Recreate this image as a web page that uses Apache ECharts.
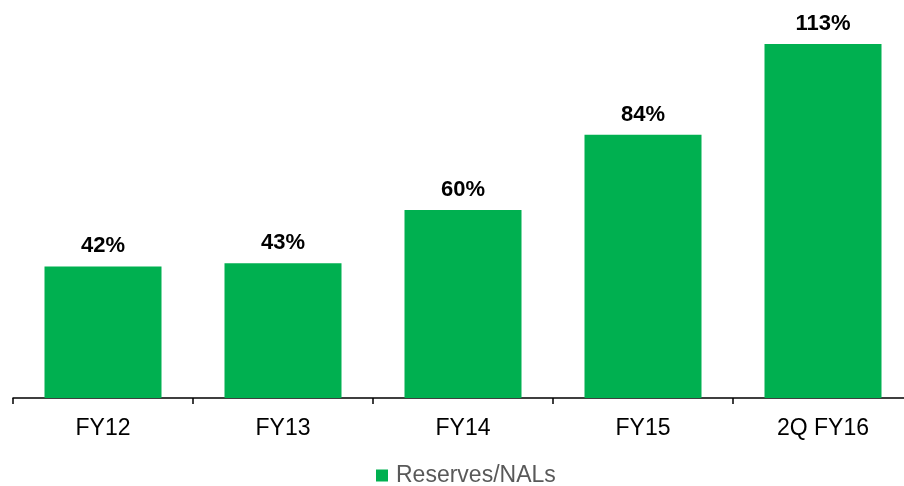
<!DOCTYPE html>
<html><head><meta charset="utf-8">
<script src="https://cdn.jsdelivr.net/npm/echarts@6/dist/echarts.min.js"></script>
<style>html,body{margin:0;padding:0;background:#fff}#c{width:904px;height:486px}</style>
</head><body><div id="c"></div>
<script>
const categories = ["FY12", "FY13", "FY14", "FY15", "2Q FY16"];
const reservesNALs = [42, 43, 60, 84, 113];
const seriesName = "Reserves/NALs";

const chart = echarts.init(document.getElementById('c'));
chart.setOption({
  animation: false,
  textStyle: { fontFamily: "Liberation Sans, Arial, sans-serif" },
  grid: { left: 13, width: 900, top: 22, bottom: 88, containLabel: false, outerBoundsMode: 'none' },
  legend: {
    data: [seriesName], top: 459, left: 371,
    itemWidth: 12, itemHeight: 12, itemGap: 8,
    icon: 'rect',
    textStyle: { fontSize: 23, color: '#595959', padding: [0, 0, 0, 3], fontFamily: "Liberation Sans, Arial, sans-serif" }
  },
  xAxis: {
    type: 'category', data: categories,
    axisLine: { lineStyle: { color: '#000', width: 1.5 } },
    axisTick: { show: true, length: 6, lineStyle: { color: '#000', width: 1.5 } },
    axisLabel: { fontSize: 23, color: '#000', margin: 19 }
  },
  yAxis: { type: 'value', min: 0, max: 120, show: false, splitLine: { show: false } },
  series: [{
    name: seriesName, type: 'bar', data: reservesNALs, barWidth: '65%',
    itemStyle: { color: '#00B050' },
    label: { show: true, position: 'top', distance: 9, formatter: '{c}%', fontSize: 22, fontWeight: 'bold', color: '#000' }
  }]
});
</script></body></html>
